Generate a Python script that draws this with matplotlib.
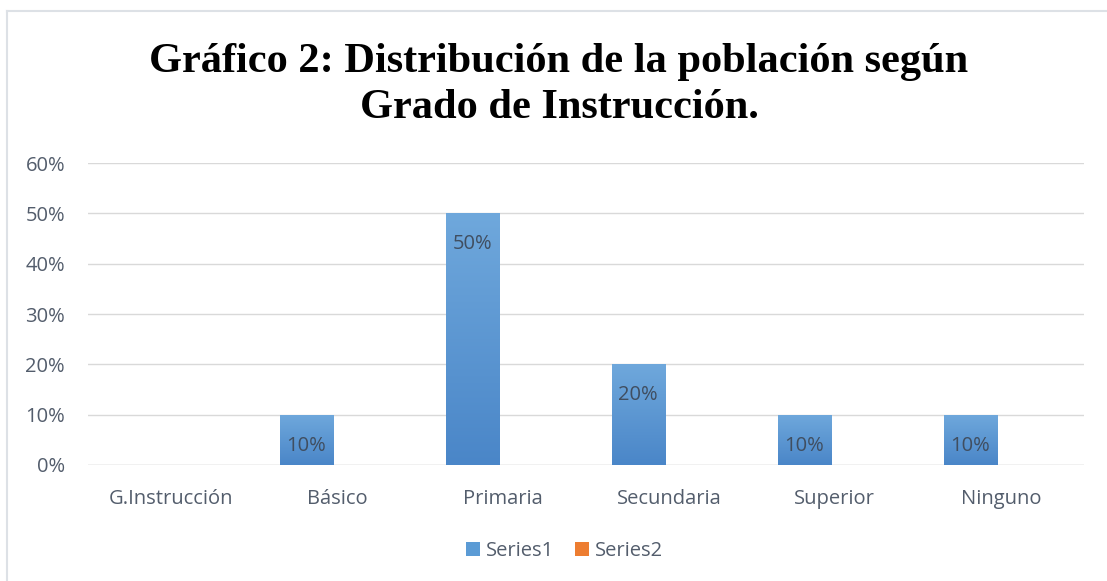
import numpy as np
import matplotlib
matplotlib.use("Agg")
import matplotlib.pyplot as plt
from matplotlib.patches import Patch
from matplotlib.lines import Line2D
from matplotlib.colors import LinearSegmentedColormap

categories = ["G.Instrucción", "Básico", "Primaria", "Secundaria", "Superior", "Ninguno"]
series1 = [np.nan, 0.10, 0.50, 0.20, 0.10, 0.10]
series2 = [np.nan, np.nan, np.nan, np.nan, np.nan, np.nan]
yticks = [0.0, 0.1, 0.2, 0.3, 0.4, 0.5, 0.6]
title = "Gráfico 2: Distribución de la población según\nGrado de Instrucción."

TXT = "#535D6C"
GRID = "#D9D9D9"
FONT = ["Open Sans", "DejaVu Sans"]
FS = 14.5

fig = plt.figure(figsize=(11.07, 5.81), dpi=100)
ax = fig.add_axes([0.0795, 0.1997, 0.8995, 0.5197])

x = np.arange(len(categories))
w = 0.32
b1 = ax.bar(x - 0.185, np.nan_to_num(series1), w, color="#5B9BD5", zorder=2)
b2 = ax.bar(x - 0.185 + w, np.nan_to_num(series2), w, color="#ED7D31", zorder=2)

cmap = LinearSegmentedColormap.from_list("g", ["#4A86C8", "#6FA8DC"])
grad = np.linspace(0, 1, 256).reshape(-1, 1)
for rect, v in zip(b1, series1):
    if np.isnan(v) or v == 0:
        continue
    x0, y0 = rect.get_x(), rect.get_y()
    im = ax.imshow(grad, cmap=cmap, origin="lower", aspect="auto",
                   extent=[x0, x0 + rect.get_width(), y0, y0 + rect.get_height()],
                   zorder=2.5)
    im.set_clip_path(rect)
    ax.annotate(f"{v*100:.0f}%", (rect.get_x() + rect.get_width() / 2, v),
                xytext=(0, -31), textcoords="offset pixels",
                ha="center", va="center", fontsize=FS, color="#404E60",
                family=FONT, zorder=3)

ax.set_xlim(-0.5, len(categories) - 0.5)
ax.set_ylim(0, 0.6)
ax.set_yticks(yticks)
ax.set_yticklabels([f"{t*100:.0f}%" for t in yticks])
ax.set_xticks(x)
ax.set_xticklabels(categories)
ax.grid(axis="y", color=GRID, linewidth=1, zorder=0)
ax.tick_params(axis="both", length=0, labelsize=FS, labelcolor=TXT)
ax.tick_params(axis="y", pad=16.5)
ax.tick_params(axis="x", pad=17)
for lab in ax.get_xticklabels() + ax.get_yticklabels():
    lab.set_family(FONT)
for s in ax.spines.values():
    s.set_visible(False)
ax.axhline(0, color=GRID, linewidth=1, zorder=1)

fig.text(0.505, 0.781, title, ha="center", va="bottom", fontsize=30.5,
         fontweight="bold", family=["Liberation Serif", "DejaVu Serif"],
         color="black", linespacing=1.27)

handles = [Patch(facecolor="#5B9BD5", label="Series1"),
           Patch(facecolor="#ED7D31", label="Series2")]
fig.legend(handles=handles, loc="center", bbox_to_anchor=(0.51, 0.052), ncol=2,
           frameon=False, prop={"family": FONT, "size": FS},
           labelcolor=TXT, handlelength=0.7, handleheight=0.7,
           handletextpad=0.3, columnspacing=1.0)

fig.add_artist(Line2D([0.0065, 0.0065], [0, 0.981], transform=fig.transFigure,
                      color="#DDE1E6", linewidth=1.5))
fig.add_artist(Line2D([0.0065, 1.0], [0.981, 0.981], transform=fig.transFigure,
                      color="#DDE1E6", linewidth=1.5))

fig.savefig("out.png", dpi=100)
